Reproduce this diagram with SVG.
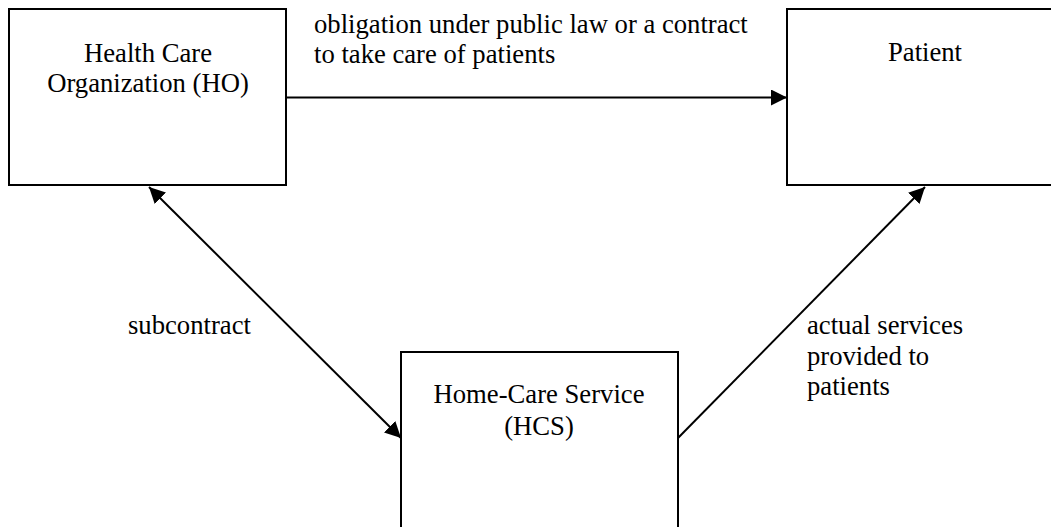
<svg xmlns="http://www.w3.org/2000/svg" width="1051" height="527" viewBox="0 0 1051 527">
<style>
.box{fill:#fff;stroke:#000;stroke-width:2}
.t{font-family:'Liberation Serif','Times New Roman',serif;font-size:26.67px;fill:#000}
.c{text-anchor:middle}
.conn{stroke:#000;stroke-width:2;fill:none}
</style>
<defs>
<marker id="ah" markerUnits="userSpaceOnUse" markerWidth="16" markerHeight="16" viewBox="0 0 16 16" refX="16" refY="8" orient="auto-start-reverse">
<path d="M0,0 L16,8 L0,16 Z" fill="#000"/>
</marker>
</defs>
<rect width="1051" height="527" fill="#fff"/>
<g id="node-ho">
<rect class="box" x="9" y="9" width="277" height="176"/>
<text class="t c" x="148" y="62">Health Care</text>
<text class="t c" x="148" y="92">Organization (HO)</text>
</g>
<g id="node-patient">
<rect class="box" x="787" y="9" width="280" height="176"/>
<text class="t c" x="925" y="61">Patient</text>
</g>
<g id="node-hcs">
<rect class="box" x="401" y="352" width="277" height="190"/>
<text class="t c" x="539" y="403">Home-Care Service</text>
<text class="t c" x="539" y="435">(HCS)</text>
</g>
<g id="connectors">
<line class="conn" x1="286" y1="97.5" x2="787" y2="97.5" marker-end="url(#ah)"/>
<line class="conn" x1="149" y1="187" x2="401" y2="438" marker-start="url(#ah)" marker-end="url(#ah)"/>
<line class="conn" x1="678" y1="438" x2="925" y2="187" marker-end="url(#ah)"/>
</g>
<g id="labels">
<text class="t" x="314" y="33">obligation under public law or a contract</text>
<text class="t" x="314" y="63">to take care of patients</text>
<text class="t" x="128" y="334">subcontract</text>
<text class="t" x="807" y="334">actual services</text>
<text class="t" x="807" y="365">provided to</text>
<text class="t" x="807" y="395">patients</text>
</g>
</svg>
